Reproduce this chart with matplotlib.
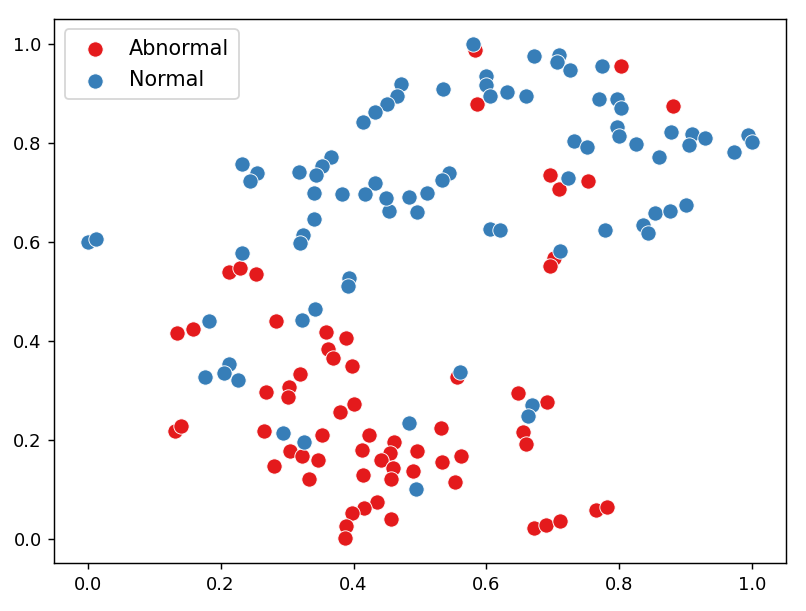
import matplotlib
matplotlib.use("Agg")
import matplotlib.pyplot as plt

abnormal_x = [0.582, 0.802, 0.585, 0.880, 0.695, 0.709, 0.753, 0.702, 0.695, 0.213,
              0.230, 0.253, 0.135, 0.159, 0.284, 0.358, 0.389, 0.362, 0.369, 0.398,
              0.320, 0.303, 0.302, 0.269, 0.400, 0.379, 0.131, 0.140, 0.266, 0.353,
              0.304, 0.323, 0.347, 0.280, 0.333, 0.424, 0.413, 0.461, 0.455, 0.441,
              0.460, 0.457, 0.415, 0.496, 0.489, 0.531, 0.533, 0.562, 0.553, 0.436,
              0.416, 0.398, 0.389, 0.387, 0.456, 0.555, 0.647, 0.691, 0.655, 0.660,
              0.672, 0.689, 0.711, 0.764, 0.781]
abnormal_y = [0.987, 0.955, 0.878, 0.874, 0.735, 0.706, 0.723, 0.566, 0.550, 0.539,
              0.546, 0.534, 0.415, 0.424, 0.440, 0.418, 0.406, 0.383, 0.364, 0.349,
              0.332, 0.307, 0.287, 0.296, 0.271, 0.256, 0.218, 0.228, 0.218, 0.209,
              0.177, 0.167, 0.159, 0.147, 0.120, 0.209, 0.179, 0.195, 0.172, 0.159,
              0.142, 0.120, 0.129, 0.177, 0.137, 0.224, 0.155, 0.167, 0.114, 0.073,
              0.061, 0.051, 0.025, 0.001, 0.039, 0.326, 0.294, 0.275, 0.216, 0.191,
              0.021, 0.027, 0.036, 0.058, 0.063]

normal_x = [0.580, 0.671, 0.709, 0.706, 0.725, 0.774, 0.535, 0.600, 0.599, 0.605,
            0.631, 0.660, 0.769, 0.797, 0.802, 0.796, 0.800, 0.825, 0.731, 0.751,
            0.878, 0.909, 0.904, 0.929, 0.860, 0.972, 0.993, 1.000, 0.723, 0.543,
            0.533, 0.511, 0.496, 0.484, 0.453, 0.449, 0.433, 0.417, 0.382, 0.340,
            0.366, 0.353, 0.344, 0.318, 0.232, 0.255, 0.244, 0.471, 0.466, 0.451,
            0.433, 0.415, 0.340, 0.324, 0.319, 0.000, 0.013, 0.232, 0.605, 0.621,
            0.778, 0.836, 0.843, 0.854, 0.876, 0.900, 0.711, 0.393, 0.391, 0.342,
            0.322, 0.182, 0.213, 0.205, 0.226, 0.176, 0.294, 0.326, 0.484, 0.494,
            0.560, 0.669, 0.662]
normal_y = [1.000, 0.976, 0.977, 0.963, 0.946, 0.956, 0.908, 0.935, 0.917, 0.895,
            0.902, 0.895, 0.889, 0.888, 0.870, 0.831, 0.814, 0.797, 0.804, 0.791,
            0.821, 0.818, 0.796, 0.809, 0.771, 0.782, 0.816, 0.802, 0.728, 0.739,
            0.725, 0.698, 0.659, 0.690, 0.662, 0.688, 0.719, 0.696, 0.696, 0.698,
            0.771, 0.752, 0.735, 0.741, 0.756, 0.738, 0.722, 0.919, 0.895, 0.878,
            0.863, 0.841, 0.645, 0.614, 0.597, 0.600, 0.606, 0.577, 0.626, 0.624,
            0.624, 0.634, 0.617, 0.657, 0.662, 0.675, 0.582, 0.527, 0.510, 0.463,
            0.442, 0.439, 0.353, 0.334, 0.321, 0.326, 0.213, 0.195, 0.233, 0.100,
            0.337, 0.270, 0.248]

labels = ["Abnormal", "Normal"]
colors = ["#e41a1c", "#377eb8"]

fig = plt.figure(figsize=(806 / 130, 611 / 130), dpi=130)
ax = fig.add_axes([54.3 / 806, (611 - 563.3) / 611, (785.7 - 54.3) / 806, (563.3 - 19) / 611])

ax.scatter(abnormal_x, abnormal_y, s=72, c=colors[0], edgecolors="white", linewidths=0.5, label=labels[0])
ax.scatter(normal_x, normal_y, s=72, c=colors[1], edgecolors="white", linewidths=0.5, label=labels[1])

ax.set_xlim(-0.05, 1.05)
ax.set_ylim(-0.05, 1.05)
ax.set_xticks([0.0, 0.2, 0.4, 0.6, 0.8, 1.0])
ax.set_yticks([0.0, 0.2, 0.4, 0.6, 0.8, 1.0])
ax.tick_params(labelsize=10)
ax.legend(loc="upper left", fontsize=11.5, handletextpad=0.65, borderpad=0.45, labelspacing=0.55)

fig.savefig("out.png", dpi=130)
